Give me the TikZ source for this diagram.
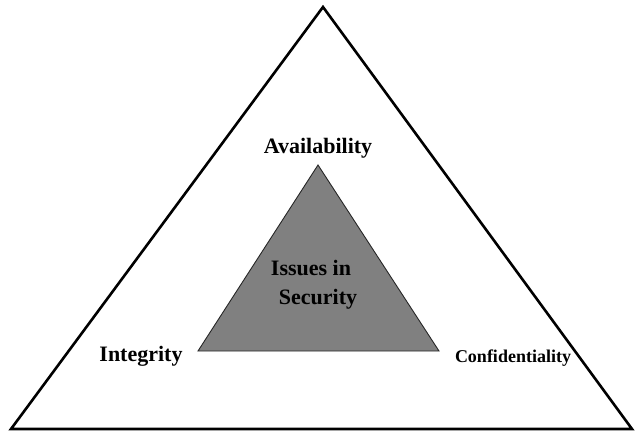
\documentclass[tikz,border=0pt]{standalone}
\usepackage{fontspec}
\setmainfont{Liberation Serif}
\begin{document}
\begin{tikzpicture}[x=1pt,y=-1pt,
  lbl/.style={font=\bfseries\fontsize{22}{26}\selectfont, inner sep=0pt, anchor=center},
  smalllbl/.style={font=\bfseries\fontsize{18}{22}\selectfont, inner sep=0pt, anchor=center},
  outertri/.style={draw=black, line width=2.6pt, line join=miter},
  innertri/.style={draw=black!85, fill=black!50, line width=0.9pt}]
\useasboundingbox (0,0) rectangle (635,434);
\fill[white] (0,0) rectangle (635,434);
\coordinate (oa) at (323,7);
\coordinate (ol) at (11,429);
\coordinate (or) at (632,429);
\coordinate (ia) at (318,165);
\coordinate (il) at (198,351);
\coordinate (ir) at (439,351);
\draw[outertri] (oa) -- (ol) -- (or) -- cycle;
\draw[innertri] (ia) -- (il) -- (ir) -- cycle;
\node[lbl] (avail) at (318,148) {Availability};
\node[lbl] (issues) at (311,268) {Issues in};
\node[lbl] (secur) at (318,299) {Security};
\node[lbl] (integ) at (141,356) {Integrity};
\node[smalllbl] (conf) at (513,358) {Confidentiality};
\end{tikzpicture}
\end{document}
